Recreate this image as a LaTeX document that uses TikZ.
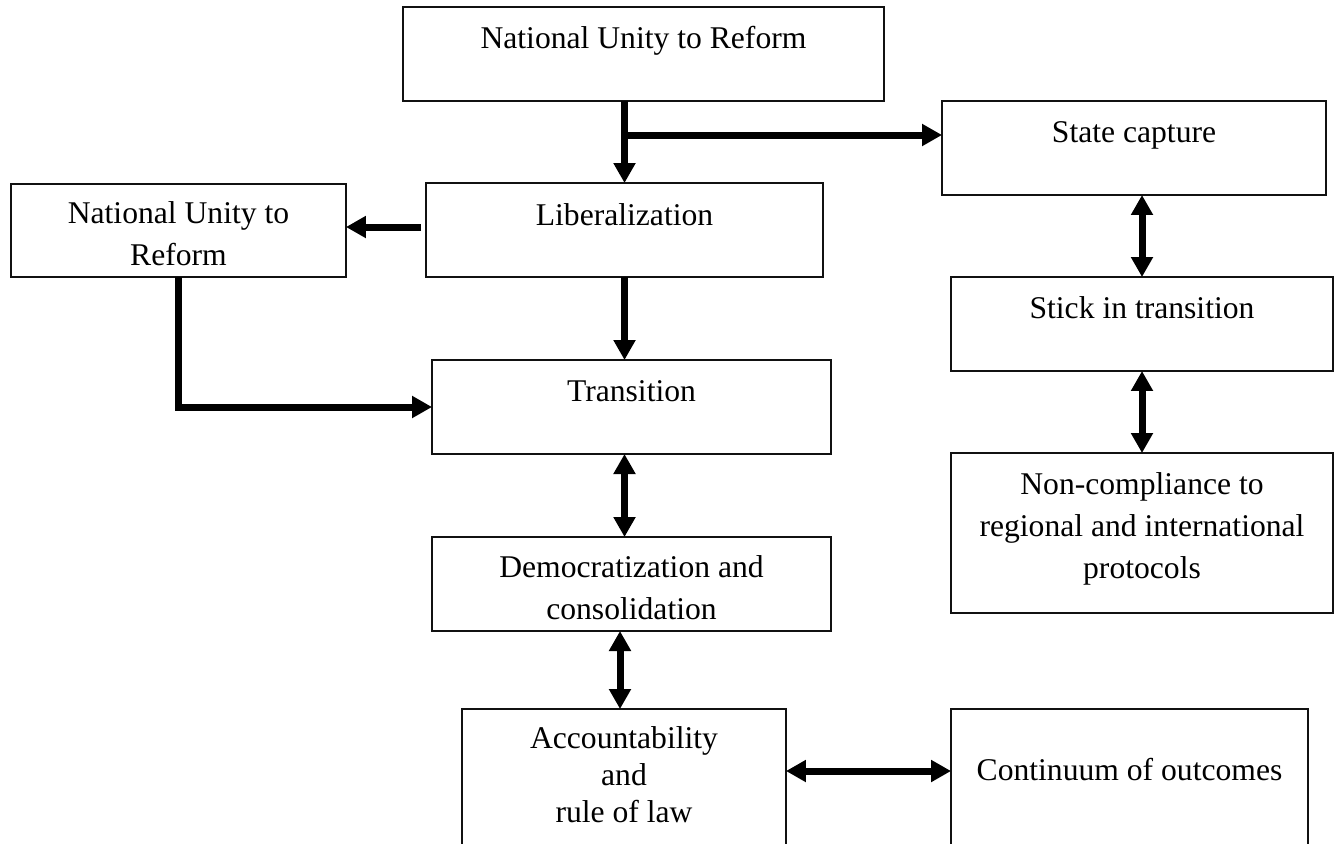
\documentclass[tikz,border=0pt]{standalone}
\usepackage{fontspec}
\setmainfont{Liberation Serif}
\usetikzlibrary{arrows.meta}

\definecolor{boxLine}{HTML}{111111}

\tikzset{
  stage/.style={draw=boxLine,line width=0.8pt,inner sep=0pt,outer sep=0pt},
  stagetext/.style={anchor=base,align=center,inner sep=0pt},
  flow/.style={line width=0.14cm,->},
  twoway/.style={line width=0.14cm,<->},
}

\begin{document}
\begin{tikzpicture}[x=0.02cm,y=-0.02cm,font={\fontsize{18}{23.8}\selectfont},
  >={Triangle[length=0.4cm,width=0.42cm]}]
  \useasboundingbox (0,0) rectangle (1338,843);
  \clip (0,0) rectangle (1338,843);
  \node[stage,minimum width=9.62cm,minimum height=1.88cm] (unity) at (643.5,54) {};
  \node[stage,minimum width=7.68cm,minimum height=1.88cm] (capture) at (1134,148) {};
  \node[stage,minimum width=6.70cm,minimum height=1.86cm] (unityLeft) at (178.5,230.5) {};
  \node[stage,minimum width=7.94cm,minimum height=1.88cm] (liberal) at (624.5,230) {};
  \node[stage,minimum width=7.64cm,minimum height=1.88cm] (stuck) at (1142,324) {};
  \node[stage,minimum width=7.98cm,minimum height=1.88cm] (transit) at (631.5,407) {};
  \node[stage,minimum width=7.64cm,minimum height=3.20cm] (noncomp) at (1142,533) {};
  \node[stage,minimum width=7.98cm,minimum height=1.88cm] (democ) at (631.5,584) {};
  \node[stage,minimum width=6.48cm,minimum height=3.20cm] (account) at (624,789) {};
  \node[stage,minimum width=7.14cm,minimum height=3.20cm] (outcome) at (1129.5,789) {};

  \node[stagetext] (unityT) at (643.5,48) {National Unity to Reform};
  \node[stagetext] (captureT) at (1134,142) {State capture};
  \node[stagetext] (unityLeftT) at (178.5,265) {National Unity to\\Reform};
  \node[stagetext] (liberalT) at (624.5,225) {Liberalization};
  \node[stagetext] (stuckT) at (1142,318) {Stick in transition};
  \node[stagetext] (transitT) at (631.5,401) {Transition};
  \node[stagetext] (noncompT) at (1142,578) {Non-compliance to\\regional and international\\protocols};
  \node[stagetext] (democT) at (631.5,619) {Democratization and\\consolidation};
  \node[stagetext,font={\fontsize{18}{21}\selectfont}] (accountT) at (624,822) {Accountability\\and\\rule of law};
  \node[stagetext] (outcomeT) at (1129.5,780) {Continuum of outcomes};

  \coordinate (fork) at (625,135);
  \draw[flow] (unity.south -| liberal.north) -- (liberal.north);
  \draw[flow] (fork) -- (fork -| capture.west);
  \draw[flow,shorten <=0.1cm] ([yshift=0.06cm]liberal.west) -- ([yshift=0.06cm]liberal.west -| unityLeft.east);
  \draw[flow] (liberal.south) -- (liberal.south |- transit.north);
  \draw[flow] (unityLeft.south) |- (transit.west);
  \draw[twoway] (liberal.south |- transit.south) -- (liberal.south |- democ.north);
  \draw[twoway] ([xshift=-0.08cm]account.north |- democ.south) -- ([xshift=-0.08cm]account.north);
  \draw[twoway] (stuck.north |- capture.south) -- (stuck.north);
  \draw[twoway] (stuck.south) -- (noncomp.north);
  \draw[twoway] ([yshift=0.36cm]account.east) -- ([yshift=0.36cm]outcome.west);
\end{tikzpicture}
\end{document}
